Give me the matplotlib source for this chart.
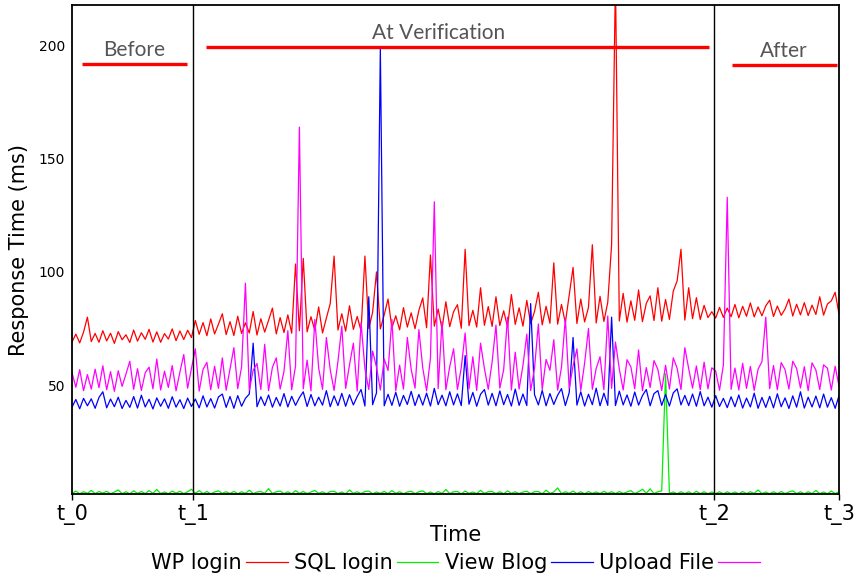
import matplotlib
matplotlib.use('Agg')
import matplotlib.pyplot as plt
import numpy as np

# sampled response times (ms), one value per time step
wp_login = [
    69.0, 72.5, 68.6, 73.4, 80.0, 69.2, 72.8, 68.9, 74.0, 69.5,
    72.9, 68.4, 73.6, 70.0, 72.2, 68.8, 74.3, 69.4, 73.1, 70.2,
    74.6, 69.0, 73.5, 68.9, 72.7, 70.3, 74.8, 69.6, 73.9, 70.1,
    74.2, 71.0, 78.5, 72.4, 77.6, 71.8, 79.2, 72.6, 76.9, 81.5,
    72.3, 78.0, 71.9, 80.4, 72.8, 77.5, 73.0, 82.5, 72.1, 79.3,
    73.4, 78.6, 84.0, 72.6, 79.8, 73.2, 81.0, 72.9, 103.5, 74.0,
    106.0, 73.5, 80.2, 74.1, 84.5, 73.0, 79.6, 86.0, 107.0, 74.3,
    81.5, 73.8, 85.0, 74.6, 80.3, 73.9, 107.0, 75.0, 82.2, 100.0,
    74.8, 81.0, 88.0, 75.2, 80.6, 74.4, 84.2, 75.6, 81.9, 74.9,
    83.0, 88.5, 75.3, 107.5, 76.0, 83.6, 74.7, 86.8, 75.8, 82.4,
    85.5, 75.1, 110.0, 76.2, 83.0, 75.6, 93.0, 76.4, 84.7, 75.9,
    89.0, 76.3, 82.8, 75.7, 90.0, 76.8, 84.1, 76.0, 87.4, 77.1,
    82.5, 91.0, 76.6, 84.8, 77.3, 104.0, 76.9, 85.6, 77.5, 89.6,
    102.0, 77.2, 88.0, 77.9, 84.3, 112.0, 77.4, 89.2, 78.1, 86.5,
    112.0, 230.0, 78.3, 90.5, 77.8, 87.2, 78.6, 92.0, 78.0, 86.1,
    89.4, 78.5, 93.0, 78.2, 87.8, 79.0, 91.5, 96.0, 110.0, 78.7,
    93.0, 79.3, 88.6, 79.0, 85.2, 79.8, 82.4, 79.6, 84.3, 79.9,
    84.0, 80.2, 85.6, 79.7, 84.8, 80.4, 86.3, 80.1, 84.5, 80.6,
    85.0, 87.5, 80.3, 84.9, 80.8, 83.6, 88.0, 80.5, 85.7, 81.0,
    86.4, 80.7, 85.3, 81.2, 89.0, 80.9, 85.8, 87.2, 91.0, 81.3,
]

sql_login = [
    2.0, 3.1, 1.9, 2.8, 2.1, 3.4, 2.0, 2.9, 2.2, 3.0,
    1.9, 2.7, 3.6, 2.0, 2.8, 1.9, 3.2, 2.1, 2.9, 2.0,
    3.3, 2.1, 3.8, 2.0, 2.7, 1.9, 3.1, 2.2, 3.0, 2.0,
    2.8, 3.9, 2.1, 3.3, 2.0, 2.9, 1.9, 2.7, 3.2, 2.1,
    2.8, 2.0, 3.0, 1.9, 2.8, 2.1, 3.5, 2.0, 2.7, 2.9,
    2.1, 4.2, 2.0, 2.8, 3.1, 2.0, 2.8, 1.9, 3.3, 2.1,
    2.9, 2.0, 2.7, 3.4, 2.1, 2.8, 1.9, 2.9, 3.0, 2.0,
    2.7, 1.9, 3.6, 2.1, 2.8, 2.0, 2.9, 3.1, 1.9, 2.7,
    2.1, 2.9, 2.0, 3.3, 2.1, 2.8, 1.9, 2.7, 3.0, 2.0,
    2.8, 3.2, 2.0, 2.7, 1.9, 2.9, 2.1, 3.8, 2.0, 2.8,
    2.9, 1.9, 3.1, 2.1, 2.7, 2.0, 3.4, 2.1, 2.8, 2.9,
    2.0, 2.8, 1.9, 3.2, 2.1, 2.8, 2.0, 2.7, 3.0, 2.0,
    2.8, 2.9, 1.9, 3.5, 2.1, 2.7, 4.5, 2.0, 2.8, 2.1,
    3.1, 2.0, 2.8, 1.9, 2.9, 2.1, 2.7, 2.0, 3.0, 2.1,
    2.8, 2.0, 2.9, 2.1, 2.7, 3.3, 2.0, 2.8, 3.9, 2.2,
    4.1, 2.0, 2.8, 3.2, 55.0, 2.1, 2.7, 1.9, 2.8, 2.0,
    2.8, 1.9, 3.0, 2.0, 2.8, 1.9, 2.7, 2.0, 2.8, 1.9,
    2.8, 2.0, 2.7, 1.9, 2.9, 2.0, 2.8, 2.1, 3.6, 2.0,
    2.7, 1.9, 2.8, 2.0, 2.9, 2.0, 2.7, 3.2, 2.0, 2.8,
    1.9, 2.8, 2.0, 3.4, 2.0, 2.7, 1.9, 3.1, 2.0, 2.8,
]

view_blog = [
    40.2, 43.6, 39.5, 44.1, 40.8, 43.9, 39.7, 44.5, 47.0, 39.9,
    43.8, 40.4, 44.6, 39.6, 43.2, 40.1, 44.9, 39.8, 45.5, 40.3,
    43.7, 39.4, 44.3, 40.6, 43.9, 39.7, 44.8, 40.2, 43.5, 39.6,
    44.2, 40.5, 43.8, 39.9, 45.2, 40.3, 44.0, 39.8, 44.7, 46.0,
    40.1, 44.9, 39.7, 45.3, 40.6, 44.1, 46.0, 68.5, 40.4, 44.8,
    40.9, 45.6, 40.2, 44.5, 40.7, 46.2, 40.3, 45.0, 41.0, 44.4,
    47.0, 40.5, 45.8, 40.8, 44.6, 41.1, 47.5, 40.4, 45.2, 40.9,
    46.3, 40.6, 45.7, 41.2, 44.9, 48.0, 40.7, 89.0, 41.3, 46.5,
    199.0, 40.8, 45.9, 41.0, 46.8, 40.6, 45.4, 41.4, 47.2, 40.9,
    45.8, 41.1, 46.4, 40.7, 48.5, 41.3, 45.5, 40.8, 47.0, 41.2,
    46.1, 40.9, 63.0, 41.5, 46.7, 40.6, 45.9, 48.0, 41.1, 46.3,
    40.8, 47.4, 41.3, 45.8, 40.7, 48.2, 41.0, 46.0, 40.9, 86.0,
    45.7, 41.2, 47.6, 40.8, 46.2, 41.4, 45.5, 48.4, 40.9, 46.6,
    71.0, 41.1, 47.0, 40.7, 45.9, 41.3, 48.6, 40.8, 46.4, 41.0,
    80.0, 40.9, 47.3, 41.2, 45.6, 40.6, 46.9, 41.1, 45.3, 48.0,
    40.8, 46.2, 47.5, 41.0, 45.8, 40.7, 46.5, 48.3, 41.2, 45.4,
    40.9, 46.0, 40.6, 47.1, 40.8, 44.6, 40.2, 45.3, 40.5, 44.1,
    40.0, 44.8, 40.4, 45.6, 39.8, 44.2, 40.3, 46.4, 39.7, 44.5,
    40.1, 45.0, 39.9, 46.1, 40.4, 44.3, 39.6, 45.2, 40.2, 47.0,
    39.8, 44.6, 40.3, 45.1, 39.9, 46.0, 40.2, 44.4, 39.7, 45.3,
]

upload_file = [
    55.5, 49.0, 56.8, 47.5, 54.6, 48.2, 57.0, 48.8, 58.5, 47.9,
    55.9, 47.2, 56.3, 49.4, 54.8, 60.5, 48.1, 57.2, 47.6, 55.4,
    57.9, 48.3, 61.5, 47.8, 56.1, 48.9, 58.6, 47.4, 55.7, 63.5,
    48.6, 57.4, 66.0, 47.3, 56.9, 60.0, 47.9, 58.3, 48.5, 62.0,
    47.7, 57.1, 66.5, 48.4, 58.0, 95.0, 47.6, 56.5, 59.5, 48.0,
    68.0, 47.5, 57.8, 62.0, 48.2, 56.0, 74.0, 47.9, 58.4, 164.0,
    48.3, 61.0, 47.4, 79.0, 57.5, 48.1, 71.0, 56.7, 47.6, 60.4,
    76.0, 48.5, 58.9, 68.5, 47.3, 77.5, 57.2, 48.0, 65.0, 57.9,
    47.8, 61.5, 56.4, 79.0, 47.5, 58.8, 48.2, 71.0, 57.0, 48.6,
    74.5, 57.6, 47.4, 61.8, 131.0, 48.4, 78.0, 47.9, 58.1, 66.0,
    48.0, 57.7, 73.0, 48.3, 62.5, 47.6, 68.5, 57.3, 48.1, 60.2,
    76.5, 48.6, 56.8, 80.0, 47.8, 64.5, 48.2, 58.6, 72.5, 47.5,
    57.4, 77.0, 48.0, 61.3, 56.5, 70.0, 47.7, 57.9, 79.5, 48.4,
    58.5, 66.0, 47.6, 59.7, 75.0, 48.1, 57.3, 62.5, 47.9, 80.5,
    48.5, 69.0, 57.1, 47.8, 61.2, 58.0, 48.3, 65.5, 47.5, 57.7,
    48.9, 60.8, 56.9, 47.6, 58.7, 48.2, 62.0, 57.4, 48.0, 66.5,
    57.2, 48.6, 58.4, 47.9, 60.1, 48.3, 57.6, 56.2, 47.7, 58.9,
    133.0, 48.1, 57.5, 47.8, 59.6, 48.5, 58.2, 47.6, 57.0, 60.3,
    80.0, 48.4, 58.6, 47.9, 59.9, 56.8, 48.2, 60.5, 57.3, 48.7,
    58.1, 47.5, 59.8, 56.6, 48.0, 58.9, 57.4, 47.8, 58.3, 49.5,
]

phase_ticks = [0, 31.4, 166.6, 199]
phase_labels = ['t_0', 't_1', 't_2', 't_3']

# phase names, marker span (start, end), marker height and label position
phases = ['Before', 'At Verification', 'After']
phase_spans = [(2.6, 29.8), (34.8, 165.3), (171.2, 198.5)]
phase_line_y = [192, 199.5, 191.5]
phase_text_x = [16.2, 95.2, 184.7]
phase_text_y = [198, 205.7, 197.5]

x = np.arange(len(wp_login))

fig = plt.figure(figsize=(8.55, 5.78), dpi=100)
ax = fig.add_axes([0.0842, 0.1453, 0.8971, 0.846])

ax.plot(x, wp_login, color='#ff0000', lw=0.9, label='WP login')
ax.plot(x, sql_login, color='#00ee00', lw=0.9, label='SQL login')
ax.plot(x, view_blog, color='#0000ff', lw=0.9, label='View Blog')
ax.plot(x, upload_file, color='#ff00ff', lw=0.9, label='Upload File')

for t in phase_ticks[1:3]:
    ax.axvline(t, color='black', lw=1)

for name, (x0, x1), ly, tx, ty in zip(phases, phase_spans, phase_line_y,
                                      phase_text_x, phase_text_y):
    ax.plot([x0, x1], [ly, ly], color='#ff0000', lw=2.4, solid_capstyle='butt')
    ax.text(tx, ty, name, ha='center', va='center', fontsize=15,
            family='Lato', color='#555555')

ax.set_xlim(0, 199)
ax.set_ylim(1.8, 218)
ax.set_xticks(phase_ticks)
ax.set_xticklabels(phase_labels, fontsize=15)
ax.set_yticks([50, 100, 150, 200])
ax.tick_params(axis='y', length=0, labelsize=10, pad=5)
ax.tick_params(axis='x', length=4, width=1, pad=3)
for s in ax.spines.values():
    s.set_linewidth(1.3)

ax.set_xlabel('Time', fontsize=15, labelpad=0)
ax.set_ylabel('Response Time (ms)', fontsize=15, labelpad=7)

ax.legend(loc='center', bbox_to_anchor=(0.5, -0.141), ncol=4, frameon=False,
          markerfirst=False, fontsize=15, handlelength=2.0, handletextpad=0.2,
          columnspacing=0.3)

fig.savefig('out.png', dpi=100)
